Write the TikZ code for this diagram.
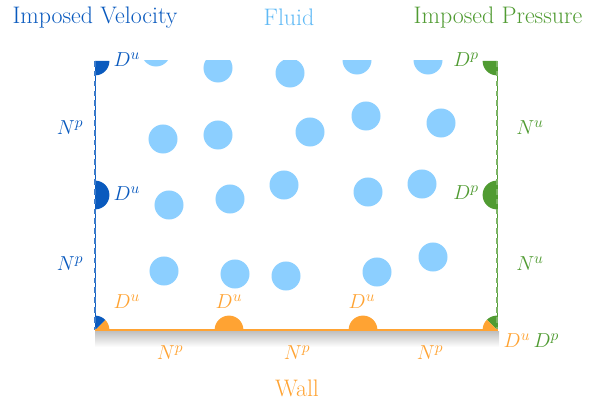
\documentclass[tikz,border=0pt]{standalone}
\usepackage{amsmath}
\usepackage{xcolor}
\usepackage{tikz}
\usetikzlibrary{positioning}
\definecolor{velblue}{RGB}{10,90,190}
\definecolor{fluidblue}{RGB}{140,207,255}
\definecolor{fluidtext}{RGB}{95,185,245}
\definecolor{presgreen}{RGB}{80,155,50}
\definecolor{wallorange}{RGB}{255,163,51}

\begin{document}
\begin{tikzpicture}[x=0.025cm, y=-0.025cm,
    lab/.style={font=\fontsize{15}{18}\selectfont, inner sep=0pt},
    title/.style={font=\fontsize{17}{20}\selectfont, inner sep=0pt, anchor=base},
    particle/.style={fill=fluidblue},
    bc/.style={line width=0.6pt},
    bcdash/.style={line width=1.7pt, dash pattern=on 4pt off 3pt}]
\useasboundingbox (0,0) rectangle (604,406);

% particles, clipped to the domain
\begin{scope}
\clip (95,61) rectangle (497,330);
\foreach \px/\py in {156/52, 218/68, 290/73, 357/60, 428/60,
                     163/139, 218/135, 310/132, 366/116, 441/123,
                     169/205, 230/199, 284/185, 368/192, 422/184,
                     164/271, 235/274, 286/276, 377/272, 433/257}
  \fill[particle] (\px,\py) circle[radius=0.3625cm];
\end{scope}

% wall shadow
\shade[top color=black!25, bottom color=white] (95,331) rectangle (499,347);

% boundary markers
\fill[velblue] (95,61) -- ++(0:0.36cm) arc[start angle=0, end angle=-90, radius=0.36cm] -- cycle;
\fill[velblue] (95,195) ++(90:0.36cm) arc[start angle=90, end angle=-90, radius=0.36cm] -- cycle;
\fill[wallorange] (95,330) -- ++(0:0.36cm) arc[start angle=0, end angle=45, radius=0.36cm] -- cycle;
\fill[velblue] (95,330) -- ++(45:0.36cm) arc[start angle=45, end angle=90, radius=0.36cm] -- cycle;
\foreach \wx in {229, 363}
  \fill[wallorange] (\wx,330) ++(0:0.36cm) arc[start angle=0, end angle=180, radius=0.36cm] -- cycle;
\fill[presgreen] (497,330) -- ++(90:0.36cm) arc[start angle=90, end angle=135, radius=0.36cm] -- cycle;
\fill[wallorange] (497,330) -- ++(135:0.36cm) arc[start angle=135, end angle=180, radius=0.36cm] -- cycle;
\fill[presgreen] (497,195) ++(90:0.36cm) arc[start angle=90, end angle=270, radius=0.36cm] -- cycle;
\fill[presgreen] (497,61) -- ++(180:0.36cm) arc[start angle=180, end angle=270, radius=0.36cm] -- cycle;

% boundaries
\draw[bc, velblue] (95,61) -- (95,330);
\draw[bcdash, velblue!80] (95,61) -- (95,330);
\draw[bc, presgreen] (497,61) -- (497,330);
\draw[bcdash, presgreen!75] (497,61) -- (497,330);
\draw[wallorange, line width=1.9pt] (95,330) -- (498,330);

% titles
\node[title, velblue] (velo) at (95,24) {Imposed Velocity};
\node[title, fluidtext] (fluid) at (289,26) {Fluid};
\node[title, presgreen] (pres) at (498,24) {Imposed Pressure};
\node[title, wallorange] (wall) at (297,396) {Wall};

% conditions
\node[lab, velblue] (du1) at (127,60) {$D^u$};
\node[lab, velblue] (du2) at (127,194) {$D^u$};
\node[lab, velblue] (np1) at (70,128) {$N^p$};
\node[lab, velblue] (np2) at (70,264) {$N^p$};
\node[lab, presgreen] (dp1) at (466,60) {$D^p$};
\node[lab, presgreen] (dp2) at (466,193) {$D^p$};
\node[lab, presgreen] (nu1) at (530,128) {$N^u$};
\node[lab, presgreen] (nu2) at (530,264) {$N^u$};
\node[lab, wallorange] (du3) at (127,302) {$D^u$};
\node[lab, wallorange] (du4) at (229,302) {$D^u$};
\node[lab, wallorange] (du5) at (362,302) {$D^u$};
\node[lab, wallorange] (np3) at (170,353) {$N^p$};
\node[lab, wallorange] (np4) at (297,353) {$N^p$};
\node[lab, wallorange] (np5) at (430,353) {$N^p$};
\node[lab, wallorange] (du6) at (517,341) {$D^u$};
\node[lab, presgreen, right=2pt of du6] (dp3) {$D^p$};
\end{tikzpicture}
\end{document}
